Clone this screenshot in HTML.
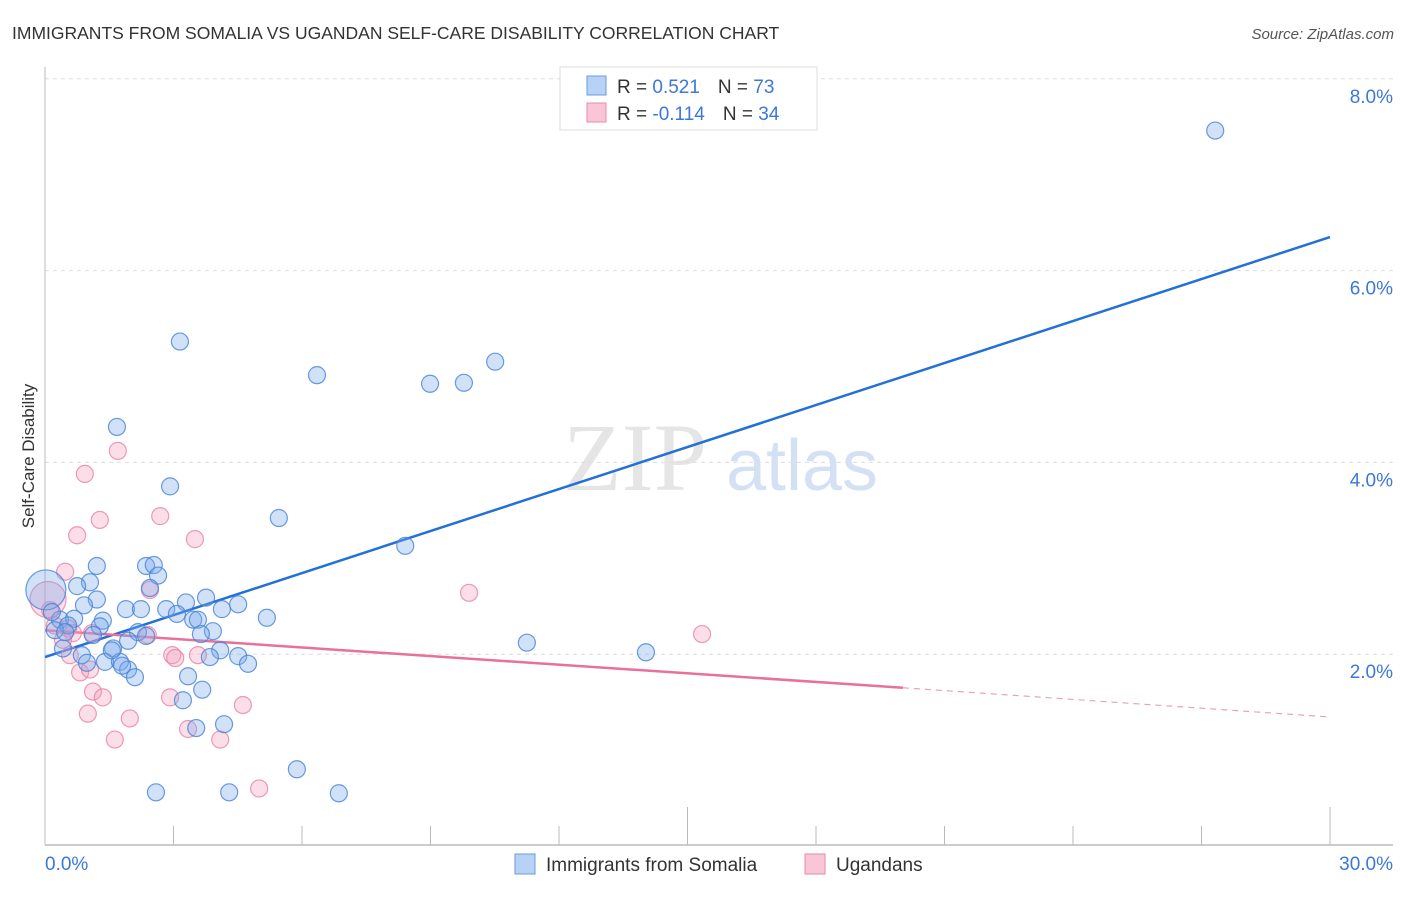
<!DOCTYPE html>
<html><head><meta charset="utf-8"><style>
body{margin:0;background:#fff;font-family:"Liberation Sans",sans-serif;}
</style></head><body>
<svg width="1406" height="892" xmlns="http://www.w3.org/2000/svg" style="font-family:'Liberation Sans',sans-serif">
<text x="12" y="39" font-size="17.5" fill="#333">IMMIGRANTS FROM SOMALIA VS UGANDAN SELF-CARE DISABILITY CORRELATION CHART</text>
<text x="1394" y="39" font-size="15" fill="#555" font-style="italic" text-anchor="end">Source: ZipAtlas.com</text>
<g>
<text x="635" y="490" font-size="96" fill="#d4d4d4" font-family="Liberation Serif,serif" text-anchor="middle" opacity="0.6">ZIP</text>
<text x="802" y="490" font-size="72" fill="#b8cef0" text-anchor="middle" opacity="0.6">atlas</text>
</g>
<g id="grid"></g>
<g id="axes"></g>
<g id="lines"></g>
<g id="points"></g>
<text transform="translate(34,456) rotate(-90)" font-size="17" fill="#333" text-anchor="middle">Self-Care Disability</text>
<g>
<rect x="560" y="67" width="257" height="63" fill="#fff" stroke="#ddd"/>
<rect x="587" y="76" width="19" height="19" fill="#b7d2f5" stroke="#6b9be0"/>
<rect x="587" y="103" width="19" height="19" fill="#f8c6d6" stroke="#e88aa8"/>
<text x="617" y="93" font-size="19" fill="#333">R = <tspan fill="#3b78d8"> 0.521</tspan><tspan dx="18" fill="#333">N = </tspan><tspan fill="#3b78d8">73</tspan></text>
<text x="617" y="120" font-size="19" fill="#333">R = <tspan fill="#3b78d8">-0.114</tspan><tspan dx="18" fill="#333">N = </tspan><tspan fill="#3b78d8">34</tspan></text>
</g>
<g>
<rect x="515" y="854" width="20" height="20" fill="#b7d2f5" stroke="#6b9be0"/>
<text x="546" y="871" font-size="19" fill="#333">Immigrants from Somalia</text>
<rect x="805" y="854" width="20" height="20" fill="#f8c6d6" stroke="#e88aa8"/>
<text x="836" y="871" font-size="19" fill="#333">Ugandans</text>
</g>
</svg>
<script>
const yTicks=[2,4,6,8];
const yTickLabels=["2.0%","4.0%","6.0%","8.0%"];
const xTickLabels=["0.0%","30.0%"];
const blueX=[27.32,3.15,6.35,10.51,8.99,9.78,1.68,2.92,5.46,8.41,1.21,2.36,2.54,2.64,1.05,0.75,2.45,0.02,1.21,0.91,1.89,2.24,2.83,3.29,3.76,4.51,4.13,3.08,5.18,3.46,3.57,0.35,0.68,1.35,1.28,0.54,3.92,3.64,2.17,2.36,1.94,1.12,0.23,1.59,0.42,0.86,4.09,4.51,3.85,4.74,1.40,1.75,1.94,1.80,2.10,3.34,3.67,3.22,3.53,4.18,11.25,14.03,5.88,2.59,4.30,6.86,0.16,0.98,1.56,0.47];
const blueY=[7.46,5.26,4.91,5.05,4.82,4.83,4.37,3.75,3.42,3.13,2.92,2.92,2.93,2.82,2.75,2.71,2.69,2.67,2.57,2.51,2.47,2.47,2.47,2.54,2.59,2.52,2.47,2.42,2.38,2.36,2.36,2.36,2.37,2.35,2.29,2.30,2.24,2.21,2.23,2.19,2.14,2.20,2.25,2.06,2.06,1.99,2.04,1.98,1.97,1.90,1.92,1.92,1.84,1.88,1.76,1.77,1.63,1.52,1.23,1.27,2.12,2.02,0.80,0.56,0.56,0.55,2.44,1.91,2.04,2.23];
const blueR=blueX.map((v,i)=>i===17?20:8.5);
const pinkX=[0.93,1.70,0.75,1.28,2.69,3.50,0.47,2.45,9.90,15.34,0.07,0.12,0.23,0.54,0.65,0.42,1.10,2.40,2.97,3.57,3.04,0.58,0.82,1.05,1.12,1.35,2.92,4.62,1.00,1.98,3.34,1.63,4.09,5.00];
const pinkY=[3.88,4.12,3.24,3.40,3.44,3.20,2.86,2.67,2.64,2.21,2.57,2.46,2.30,2.27,2.22,2.15,2.22,2.20,1.99,1.99,1.96,1.99,1.81,1.84,1.61,1.55,1.55,1.47,1.38,1.33,1.22,1.11,1.11,0.60];
const pinkR=pinkX.map((v,i)=>i===10?18:8.5);
const blueTrend=[[0,1.97],[30,6.35]];
const pinkTrendSolid=[[0,2.25],[20.03,1.65]];
const pinkTrendDash=[[20.03,1.65],[30,1.345]];
const NS='http://www.w3.org/2000/svg';
const sx=v=>45+v*(1285/30);
const sy=v=>846-v*95.9;
function mk(tag,attrs,parent){const e=document.createElementNS(NS,tag);for(const k in attrs)e.setAttribute(k,attrs[k]);document.getElementById(parent).appendChild(e);return e;}
yTicks.forEach((t,i)=>{
 const l=mk('line',{x1:45,x2:1393,y1:sy(t),y2:sy(t),stroke:'#ddd','stroke-dasharray':'4,4'},'grid');
 
 
 const tx=mk('text',{x:1393,y:sy(t)+24,'font-size':19,fill:'#3b78d8','text-anchor':'end'},'grid');
 tx.textContent=yTickLabels[i];
 
 
});
let a=mk('line',{x1:45,x2:45,y1:67,y2:845,stroke:'#bbb'},'axes');


a=mk('line',{x1:45,x2:1393,y1:845,y2:845,stroke:'#bbb','stroke-width':1.5},'axes');


for(let v=3;v<=30;v+=3){
 const t=mk('line',{x1:sx(v),x2:sx(v),y1:(v%15===0)?807:826,y2:845,stroke:'#bbb'},'axes');
 
 
}
[[0,'start'],[30,'end']].forEach((p,i)=>{
 const tx=mk('text',{x:i?1393:45,y:870,'font-size':19,fill:'#3b78d8','text-anchor':p[1]},'axes');
 tx.textContent=xTickLabels[i];
 
 
});
function line(pts,color,w,dash,name){
 const l=mk('line',{x1:sx(pts[0][0]),y1:sy(pts[0][1]),x2:sx(pts[1][0]),y2:sy(pts[1][1]),stroke:color,'stroke-width':w},'lines');
 if(dash)l.setAttribute('stroke-dasharray',dash);
 
 
}
function pts(xs,ys,rs,fill,stroke,name){
 xs.forEach((x,i)=>{
  const c=mk('circle',{cx:sx(x),cy:sy(ys[i]),r:rs[i],fill:fill,stroke:stroke,'stroke-width':1.2},'points');
  
  
 });
}
pts(pinkX,pinkY,pinkR,'rgba(243,160,190,0.35)','rgba(232,130,165,0.8)','ugandans-point');
pts(blueX,blueY,blueR,'rgba(120,170,235,0.35)','rgba(70,130,215,0.8)','somalia-point');
line(blueTrend,'#2370d6',2.5,null,'somalia-trend-line');
line(pinkTrendSolid,'#e8709a',2.5,null,'ugandans-trend-line');
line(pinkTrendDash,'#e8a0b8',1.2,'6,5','ugandans-trend-extension');
</script>
</body></html>
